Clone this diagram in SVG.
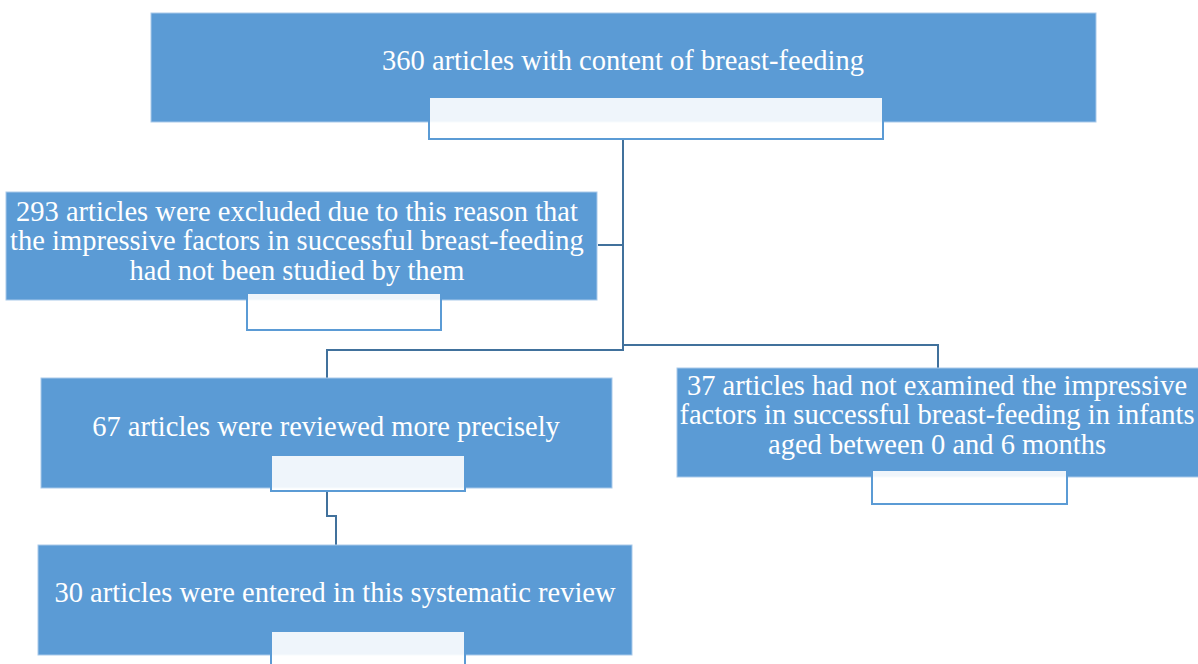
<svg xmlns="http://www.w3.org/2000/svg" width="1198" height="664" viewBox="0 0 1198 664">
<style>
.box{fill:#5b9bd5;stroke:#a9c9ea;stroke-width:1}
.tag{fill:#ffffff;fill-opacity:0.9;stroke:#5b9bd5;stroke-width:2}
.t{font-family:'Liberation Serif','Times New Roman',serif;font-size:28.5px;fill:#ffffff;text-anchor:middle}
.c{fill:none;stroke:#41719c;stroke-width:2}
</style>
<rect width="1198" height="664" fill="#ffffff"/>
<g id="connectors">
<path class="c" d="M623,139 V350 H327 V378"/>
<path class="c" d="M623,245 H598"/>
<path class="c" d="M623,345 H938 V368"/>
<path class="c" d="M327,491 V516 H336 V545" stroke="#5b9bd5"/>
</g>
<g id="n360">
<rect class="box" x="151" y="13" width="945" height="109"/>
<rect class="tag" x="429" y="97" width="454" height="42"/>
<text class="t" x="623" y="70">360 articles with content of breast-feeding</text>
</g>
<g id="n293">
<rect class="box" x="6" y="192" width="591" height="108"/>
<rect class="tag" x="247" y="293" width="194" height="37"/>
<text class="t" x="297" y="220.5">293 articles were excluded due to this reason that</text>
<text class="t" x="297" y="250">the impressive factors in successful breast-feeding</text>
<text class="t" x="297" y="279.5">had not been studied by them</text>
</g>
<g id="n67">
<rect class="box" x="41" y="378" width="571" height="110"/>
<rect class="tag" x="271" y="455" width="194" height="36"/>
<text class="t" x="326" y="436">67 articles were reviewed more precisely</text>
</g>
<g id="n37">
<rect class="box" x="677" y="368" width="525" height="109"/>
<rect class="tag" x="872" y="470" width="195" height="34"/>
<text class="t" x="937" y="394.5">37 articles had not examined the impressive</text>
<text class="t" x="937" y="424">factors in successful breast-feeding in infants</text>
<text class="t" x="937" y="453.5">aged between 0 and 6 months</text>
</g>
<g id="n30">
<rect class="box" x="38" y="545" width="594" height="110"/>
<rect class="tag" x="271" y="631" width="194" height="40"/>
<text class="t" x="335" y="602">30 articles were entered in this systematic review</text>
</g>
</svg>
